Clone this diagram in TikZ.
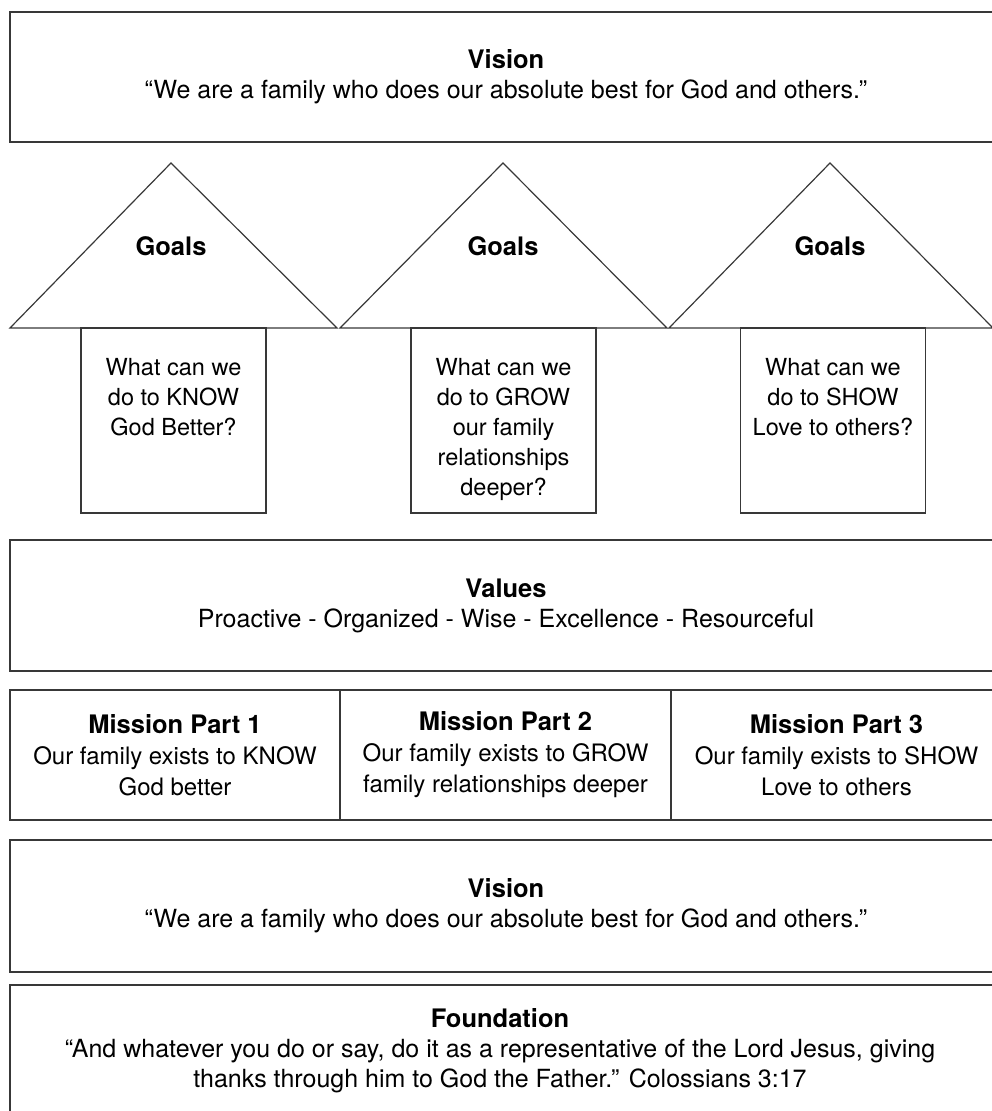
\documentclass[tikz,border=0pt]{standalone}
\usepackage{fontspec}
\setmainfont{TeX Gyre Heros}
\newcommand\hd[1]{{\fontsize{25.5}{30}\selectfont\bfseries #1}}
\begin{document}
\begin{tikzpicture}[x=1pt,y=-1pt,
  line/.style={draw=black!78, line width=1.2pt},
  box/.style={line, rectangle, inner sep=0pt, align=center, font=\fontsize{25}{30}\selectfont},
  mbox/.style={box, font=\fontsize{24}{31}\selectfont},
  txt/.style={inner sep=0pt, align=center, font=\fontsize{23.5}{30}\selectfont},
  goal/.style={inner sep=0pt, font=\fontsize{25.5}{30}\selectfont\bfseries},
  gbox/.style={line, fill=white, minimum width=185pt, minimum height=185pt, inner sep=0pt},
  roof/.style={line, line join=miter}]
\useasboundingbox (0,0) rectangle (992,1111);
\clip (0,0) rectangle (992,1111);
% top vision
\node[box, minimum width=992pt, minimum height=130pt] (vis1) at (506,77)
  {\hd{Vision}\\“We are a family who does our absolute best for God and others.”};
% roofs
\draw[roof] (10,328) -- (171,163) -- (337,328) -- cycle;
\draw[roof] (340,328) -- (503,163) -- (667,328) -- cycle;
\draw[roof] (669,328) -- (830,163) -- (993,328) -- cycle;
\node[goal] (goal1) at (171,246) {Goals};
\node[goal] (goal2) at (503,246) {Goals};
\node[goal] (goal3) at (830,246) {Goals};
% goal boxes
\node[gbox] (gb1) at (173.5,420.5) {};
\node[gbox] (gb2) at (503.5,420.5) {};
\node[gbox] (gb3) at (833,420.5) {};
\node[txt, anchor=north] (gt1) at (173.5,358) {What can we\\do to KNOW\\God Better?};
\node[txt, anchor=north] (gt2) at (503.5,358) {What can we\\do to GROW\\our family\\relationships\\deeper?};
\node[txt, anchor=north] (gt3) at (833,358) {What can we\\do to SHOW\\Love to others?};
% values
\node[box, minimum width=992pt, minimum height=131pt] (values) at (506,605.5)
  {\hd{Values}\\Proactive - Organized - Wise - Excellence - Resourceful};
% mission
\node[mbox, minimum width=330pt, minimum height=130pt] (m1) at (175,755)
  {\hd{Mission Part 1}\\Our family exists to KNOW\\God better};
\node[mbox, minimum width=331pt, minimum height=130pt] (m2) at (505.5,755)
  {\hd{Mission Part 2}\\Our family exists to GROW\\family relationships deeper};
\node[mbox, minimum width=331pt, minimum height=130pt] (m3) at (836.5,755)
  {\hd{Mission Part 3}\\Our family exists to SHOW\\Love to others};
% vision 2
\node[box, minimum width=992pt, minimum height=132pt] (vis2) at (506,906)
  {\hd{Vision}\\“We are a family who does our absolute best for God and others.”};
% foundation
\node[line, minimum width=992pt, minimum height=146pt, inner sep=0pt] (found) at (506,1058) {};
\node[txt, font=\fontsize{25}{30}\selectfont, anchor=north] (foundtxt) at (500,1008)
  {\hd{Foundation}\\“And whatever you do or say, do it as a representative of the Lord Jesus, giving\\thanks through him to God the Father.” Colossians 3:17};
\end{tikzpicture}
\end{document}
